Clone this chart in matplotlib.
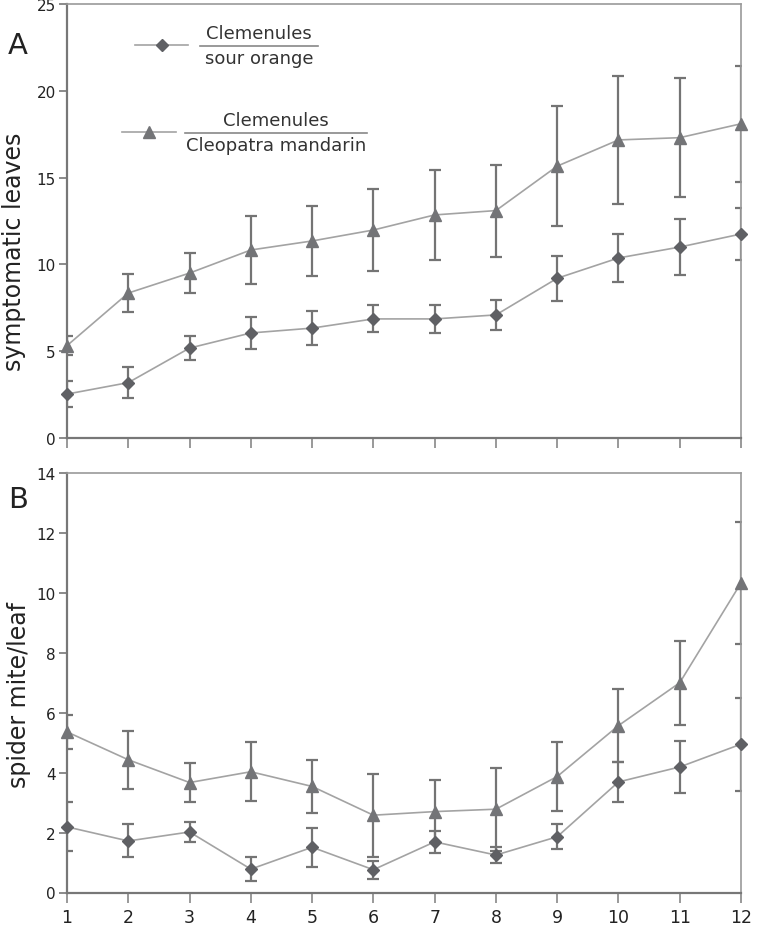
import numpy as np
import matplotlib
matplotlib.use("Agg")
import matplotlib.pyplot as plt
from matplotlib.lines import Line2D

# x positions (months)
months = list(range(1, 13))

# Panel A: symptomatic leaves
a_sour = [2.53, 3.19, 5.18, 6.05, 6.33, 6.86, 6.86, 7.09, 9.2, 10.37, 11.0, 11.75]
a_sour_err = [0.75, 0.9, 0.7, 0.9, 0.97, 0.78, 0.8, 0.85, 1.3, 1.4, 1.6, 1.5]
a_cleo = [5.32, 8.35, 9.5, 10.83, 11.35, 11.98, 12.85, 13.1, 15.66, 17.17, 17.3, 18.1]
a_cleo_err = [0.55, 1.07, 1.15, 1.96, 2.0, 2.36, 2.6, 2.65, 3.45, 3.7, 3.42, 3.35]

# Panel B: spider mite per leaf
b_sour = [2.19, 1.72, 2.02, 0.78, 1.51, 0.76, 1.69, 1.25, 1.86, 3.69, 4.19, 4.95]
b_sour_err = [0.82, 0.55, 0.33, 0.39, 0.65, 0.3, 0.36, 0.28, 0.42, 0.66, 0.87, 1.55]
b_cleo = [5.36, 4.43, 3.67, 4.03, 3.54, 2.58, 2.7, 2.78, 3.87, 5.57, 7.0, 10.33]
b_cleo_err = [0.58, 0.96, 0.66, 0.98, 0.88, 1.38, 1.06, 1.38, 1.16, 1.23, 1.4, 2.04]

line_col = "#a3a3a3"
err_col = "#747474"
sour_col = "#5f6064"
cleo_col = "#737477"

fig = plt.figure(figsize=(7.6, 9.28), dpi=100)
axA = fig.add_axes([67/760, 1-439/928, 674/760, 434/928])
axB = fig.add_axes([67/760, 1-893.5/928, 674/760, 419.5/928])


def draw(ax, y1, e1, y2, e2):
    for y, e, mk, col, ms in [(y2, e2, "^", cleo_col, 8), (y1, e1, "D", sour_col, 6)]:
        ax.errorbar(months, y, yerr=e, fmt="none", ecolor=err_col, elinewidth=1.6,
                    capsize=4, capthick=1.6, zorder=2)
        ax.plot(months, y, color=line_col, lw=1.2, zorder=3)
        ax.plot(months, y, ls="none", marker=mk, ms=ms, color=col, mec=col,
                zorder=4, clip_on=False)
    ax.set_xlim(1, 12)
    ax.set_xticks(months)
    for s in ["left", "bottom"]:
        ax.spines[s].set_color("#777777")
        ax.spines[s].set_linewidth(1.6)
    for s in ["top", "right"]:
        ax.spines[s].set_color("#9a9a9a")
        ax.spines[s].set_linewidth(1.2)
    ax.tick_params(axis="y", direction="out", length=6, width=1.2, color="#777777",
                   labelsize=11, labelcolor="#222222", pad=2)
    ax.tick_params(axis="x", direction="out", length=7, width=1.2, color="#888888",
                   labelsize=12.5, labelcolor="#222222", pad=4)


draw(axA, a_sour, a_sour_err, a_cleo, a_cleo_err)
axA.set_ylim(0, 25)
axA.set_yticks([0, 5, 10, 15, 20, 25])
axA.tick_params(axis="x", labelbottom=False)
axA.set_ylabel("symptomatic leaves", fontsize=17, color="#222222", va="center")
axA.yaxis.set_label_coords((14 - 67) / 674, (439 - 252) / 434)

draw(axB, b_sour, b_sour_err, b_cleo, b_cleo_err)
axB.set_ylim(0, 14)
axB.set_yticks([0, 2, 4, 6, 8, 10, 12, 14])
axB.set_ylabel("spider mite/leaf", fontsize=17, color="#222222", va="center")
axB.yaxis.set_label_coords((19 - 67) / 674, (893.5 - 695.5) / 419.5)

fig.text(8/760, 1-46/928, "A", fontsize=21, va="center", ha="left", color="#222222")
fig.text(8/760, 1-500/928, "B", fontsize=21, va="center", ha="left", color="#222222")


# legend drawn by hand (fraction style labels)
def fx(px):
    return (px - 67) / 674


def fy(py):
    return (439 - py) / 434


tr = axA.transAxes
legend_items = [
    ("D", sour_col, 6, 135, 188, 46, "Clemenules", "sour orange", 200, 318),
    ("^", cleo_col, 8, 122, 176, 133, "Clemenules", "Cleopatra mandarin", 185, 367),
]
for mk, col, ms, x0, x1, yy, top, bot, l0, l1 in legend_items:
    axA.add_line(Line2D([fx(x0), fx(x1)], [fy(yy), fy(yy)], transform=tr,
                        color=line_col, lw=1.2))
    axA.add_line(Line2D([fx((x0 + x1) / 2)], [fy(yy)], transform=tr, marker=mk,
                        ms=ms, color=col, ls="none"))
    axA.add_line(Line2D([fx(l0), fx(l1)], [fy(yy + 1), fy(yy + 1)], transform=tr,
                        color="#888888", lw=1.2))
    axA.text(fx((l0 + l1) / 2), fy(yy - 3), top, transform=tr, ha="center",
             va="bottom", fontsize=13, color="#333333")
    axA.text(fx((l0 + l1) / 2), fy(yy + 4), bot, transform=tr, ha="center",
             va="top", fontsize=13, color="#333333")

fig.savefig("out.png", dpi=100)
